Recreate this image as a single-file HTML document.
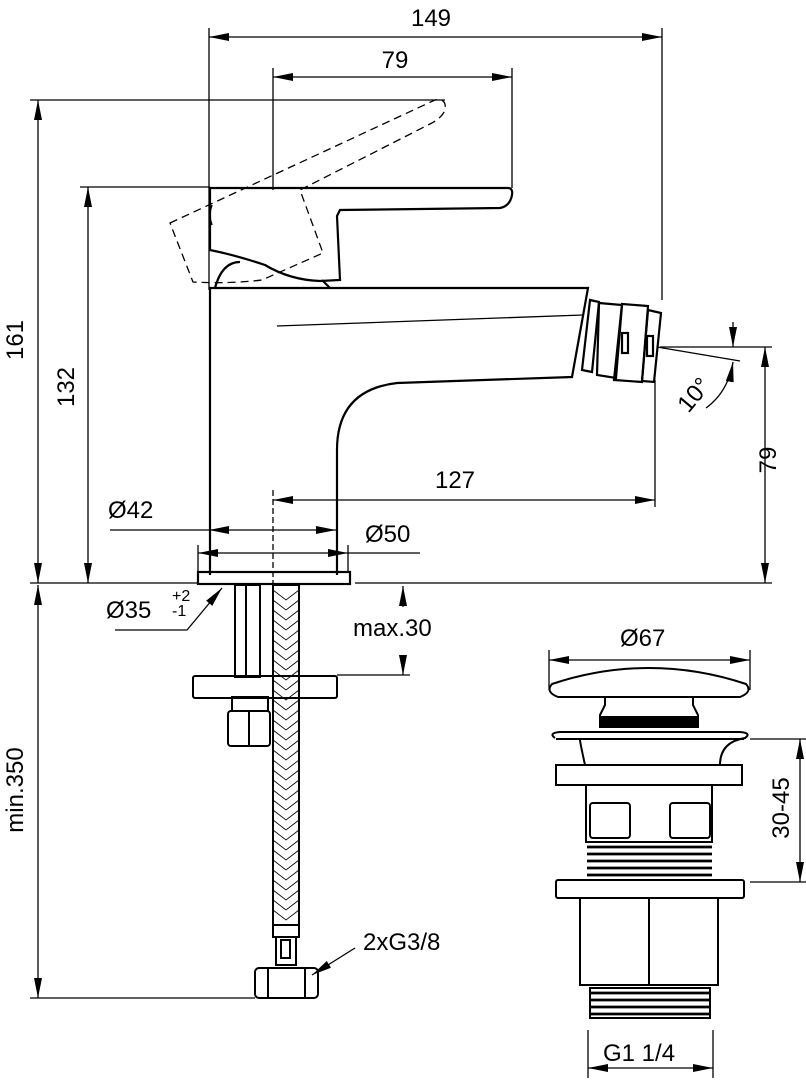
<!DOCTYPE html>
<html><head><meta charset="utf-8"><style>
html,body{margin:0;padding:0;background:#fff}
svg{display:block}
text{font-family:"Liberation Sans",sans-serif;fill:#000}
</style></head><body>
<svg width="806" height="1080" viewBox="0 0 806 1080" xmlns="http://www.w3.org/2000/svg">
<defs>
<marker id="a" viewBox="0 0 20 8" refX="20" refY="4" markerWidth="20" markerHeight="8" orient="auto-start-reverse" markerUnits="userSpaceOnUse"><path d="M0,0 L20,4 L0,8 Z" fill="#000"/></marker>
</defs>
<g stroke="#000" fill="none" stroke-width="1.3">
<line x1="209" y1="28" x2="209" y2="290"/>
<line x1="662" y1="28" x2="662" y2="300"/>
<line x1="209" y1="37" x2="662" y2="37" marker-start="url(#a)" marker-end="url(#a)"/>
<line x1="273" y1="68" x2="273" y2="190"/>
<line x1="512" y1="68" x2="512" y2="188"/>
<line x1="273" y1="77" x2="512" y2="77" marker-start="url(#a)" marker-end="url(#a)"/>
<line x1="30" y1="100" x2="445" y2="100"/>
<line x1="80" y1="187" x2="210" y2="187"/>
<line x1="38" y1="100" x2="38" y2="583" marker-start="url(#a)" marker-end="url(#a)"/>
<line x1="88" y1="187" x2="88" y2="583" marker-start="url(#a)" marker-end="url(#a)"/>
<line x1="30" y1="583" x2="198" y2="583"/>
<line x1="355" y1="583" x2="772" y2="583"/>
<line x1="660" y1="347" x2="772" y2="347"/>
<line x1="765" y1="347" x2="765" y2="583" marker-start="url(#a)" marker-end="url(#a)"/>
<line x1="657" y1="347" x2="740" y2="361"/>
<line x1="733" y1="322" x2="733" y2="347" marker-end="url(#a)"/>
<path d="M706,408 Q728,392 733,362" marker-end="url(#a)"/>
<line x1="655" y1="380" x2="655" y2="507"/>
<line x1="273" y1="490" x2="273" y2="583" stroke-dasharray="6,3"/>
<line x1="273" y1="500" x2="655" y2="500" marker-start="url(#a)" marker-end="url(#a)"/>
<line x1="110" y1="530" x2="209" y2="530"/>
<line x1="209" y1="530" x2="336" y2="530" marker-start="url(#a)" marker-end="url(#a)"/>
<line x1="198" y1="545" x2="198" y2="572"/>
<line x1="348" y1="545" x2="348" y2="572"/>
<line x1="198" y1="553" x2="348" y2="553" marker-start="url(#a)" marker-end="url(#a)"/>
<line x1="348" y1="553" x2="420" y2="553"/>
</g>
<g stroke="#000" fill="none" stroke-width="2.2">
<path d="M210,575 L210,288 L588,288 L572,377 L397,383 Q337,390 337,450 L337,575"/>
<line x1="277" y1="326" x2="583" y2="315" stroke-width="1.3"/>
<rect x="198" y="572" width="152" height="12"/>
<path d="M215,288 Q222,262 240,262 M322,280 L330,288"/>
<path d="M210,250 L210,188 L508,188 Q513,188 512,195 Q510,206 500,208 L340,210 L337,216 L340,280 L320,281 Q290,280 265,265 Q235,255 210,250 Z"/>
<path d="M212,205 Q208,215 212,225" stroke-width="1.5"/>
<path d="M590,300 L599,302 L592,372 L582,370 Z"/>
<path d="M599,303 L622,305 L616,378 L597,375 Z"/>
<path d="M622,304 L648,306 L642,382 L614,380 Z"/>
<path d="M648,310 L661,313 L654,382 L642,381 Z"/>
<rect x="622" y="333" width="6" height="20"/>
<rect x="647" y="336" width="6" height="20"/>
</g>
<g stroke="#000" fill="none" stroke-width="1.3" stroke-dasharray="8,5">
<path d="M170,223 L435,100 Q447,98 445,110 Q442,118 430,124 L300,190 L323,253 L262,280 Q230,284 193,282 Z"/>
</g>
<g stroke="#000" fill="none" stroke-width="2">
<rect x="235" y="585" width="11" height="92"/>
<rect x="246" y="585" width="14" height="92"/>
<rect x="273" y="585" width="26" height="340"/>
<rect x="193" y="676" width="144" height="22" rx="2"/>
<rect x="232" y="697" width="36" height="14"/>
<rect x="228" y="711" width="42" height="35" rx="3"/>
<line x1="249" y1="711" x2="249" y2="746"/>
<rect x="273" y="925" width="26" height="12"/>
<rect x="276" y="937" width="20" height="28"/>
<rect x="281" y="940" width="9" height="18"/>
<rect x="255" y="968" width="63" height="30" rx="4"/>
<line x1="268" y1="968" x2="268" y2="998"/>
<line x1="305" y1="968" x2="305" y2="998"/>
</g>
<g stroke="#000" stroke-width="0.8" fill="none">
<path d="M273,590 l13,10 l13,-10 M273,600 l13,10 l13,-10 M273,610 l13,10 l13,-10 M273,620 l13,10 l13,-10 M273,630 l13,10 l13,-10 M273,640 l13,10 l13,-10 M273,650 l13,10 l13,-10 M273,660 l13,10 l13,-10 M273,670 l13,10 l13,-10 M273,680 l13,10 l13,-10 M273,690 l13,10 l13,-10 M273,700 l13,10 l13,-10 M273,710 l13,10 l13,-10 M273,720 l13,10 l13,-10 M273,730 l13,10 l13,-10 M273,740 l13,10 l13,-10 M273,750 l13,10 l13,-10 M273,760 l13,10 l13,-10 M273,770 l13,10 l13,-10 M273,780 l13,10 l13,-10 M273,790 l13,10 l13,-10 M273,800 l13,10 l13,-10 M273,810 l13,10 l13,-10 M273,820 l13,10 l13,-10 M273,830 l13,10 l13,-10 M273,840 l13,10 l13,-10 M273,850 l13,10 l13,-10 M273,860 l13,10 l13,-10 M273,870 l13,10 l13,-10 M273,880 l13,10 l13,-10 M273,890 l13,10 l13,-10 M273,900 l13,10 l13,-10 M273,910 l13,10 l13,-10"/>
</g>
<g stroke="#000" fill="none" stroke-width="1.3">
<line x1="403" y1="586" x2="403" y2="607" marker-start="url(#a)"/>
<line x1="403" y1="655" x2="403" y2="675" marker-end="url(#a)"/>
<line x1="337" y1="675" x2="410" y2="675"/>
<line x1="38" y1="585" x2="38" y2="998" marker-start="url(#a)" marker-end="url(#a)"/>
<line x1="30" y1="998" x2="255" y2="998"/>
<path d="M115,630 L187,630 L222,588" marker-end="url(#a)"/>
<line x1="355" y1="948" x2="312" y2="975" marker-end="url(#a)"/>
<line x1="549" y1="650" x2="549" y2="690"/>
<line x1="750" y1="650" x2="750" y2="690"/>
<line x1="549" y1="660" x2="750" y2="660" marker-start="url(#a)" marker-end="url(#a)"/>
<line x1="750" y1="739" x2="810" y2="739"/>
<line x1="750" y1="882" x2="810" y2="882"/>
<line x1="800" y1="739" x2="800" y2="882" marker-start="url(#a)" marker-end="url(#a)"/>
<line x1="588" y1="1030" x2="588" y2="1078"/>
<line x1="713" y1="1030" x2="713" y2="1078"/>
<line x1="588" y1="1068" x2="713" y2="1068" marker-start="url(#a)" marker-end="url(#a)"/>
</g>
<g stroke="#000" fill="none" stroke-width="2">
<path d="M558,697 Q545,692 552,684 Q600,668 649,668 Q698,668 746,684 Q753,692 740,697 Z"/>
<path d="M605,697 L605,705 L600,715 L600,727 L698,727 L698,715 L693,705 L693,697"/>
<rect x="600" y="717" width="98" height="10" fill="#000"/>
<path d="M555,738 Q548,733 560,732 L740,732 Q752,733 745,738 Q720,742 720,765 M580,740 Q580,742 585,765"/>
<line x1="556" y1="739" x2="744" y2="739"/>
<rect x="556" y="765" width="186" height="20"/>
<rect x="586" y="785" width="126" height="57"/>
<rect x="590" y="803" width="40" height="35" rx="3"/>
<rect x="670" y="803" width="40" height="35" rx="3"/>
<rect x="556" y="880" width="188" height="18" rx="2"/>
<path d="M580,898 L580,985 L718,985 L718,898 M649,898 L649,985"/>
<rect x="590" y="988" width="120" height="30"/>
</g>
<g stroke="#000" stroke-width="2.8">
<line x1="587" y1="847" x2="712" y2="847"/><line x1="587" y1="854" x2="712" y2="854"/><line x1="587" y1="861" x2="712" y2="861"/><line x1="587" y1="868" x2="712" y2="868"/><line x1="587" y1="875" x2="712" y2="875"/>
<line x1="590" y1="993" x2="710" y2="993"/><line x1="590" y1="1000" x2="710" y2="1000"/><line x1="590" y1="1007" x2="710" y2="1007"/><line x1="590" y1="1014" x2="710" y2="1014"/>
</g>
<g font-size="24">
<text x="431" y="26" text-anchor="middle">149</text>
<text x="395" y="68" text-anchor="middle">79</text>
<text x="455" y="488" text-anchor="middle">127</text>
<text x="108" y="518">Ø42</text>
<text x="365" y="542">Ø50</text>
<text x="106" y="618">Ø35</text>
<text x="353" y="636">max.30</text>
<text x="363" y="950">2xG3/8</text>
<text x="620" y="646">Ø67</text>
<text x="603" y="1061">G1 1/4</text>
<text transform="translate(23,340) rotate(-90)" text-anchor="middle">161</text>
<text transform="translate(74,387) rotate(-90)" text-anchor="middle">132</text>
<text transform="translate(776,460) rotate(-90)" text-anchor="middle">79</text>
<text transform="translate(23,790) rotate(-90)" text-anchor="middle">min.350</text>
<text transform="translate(789,808) rotate(-90)" text-anchor="middle">30-45</text>
<text transform="translate(700,400) rotate(-50)" text-anchor="middle">10°</text>
</g>
<text x="172" y="601" font-size="16">+2</text>
<text x="172" y="616" font-size="16">-1</text>
</svg>
</body></html>
